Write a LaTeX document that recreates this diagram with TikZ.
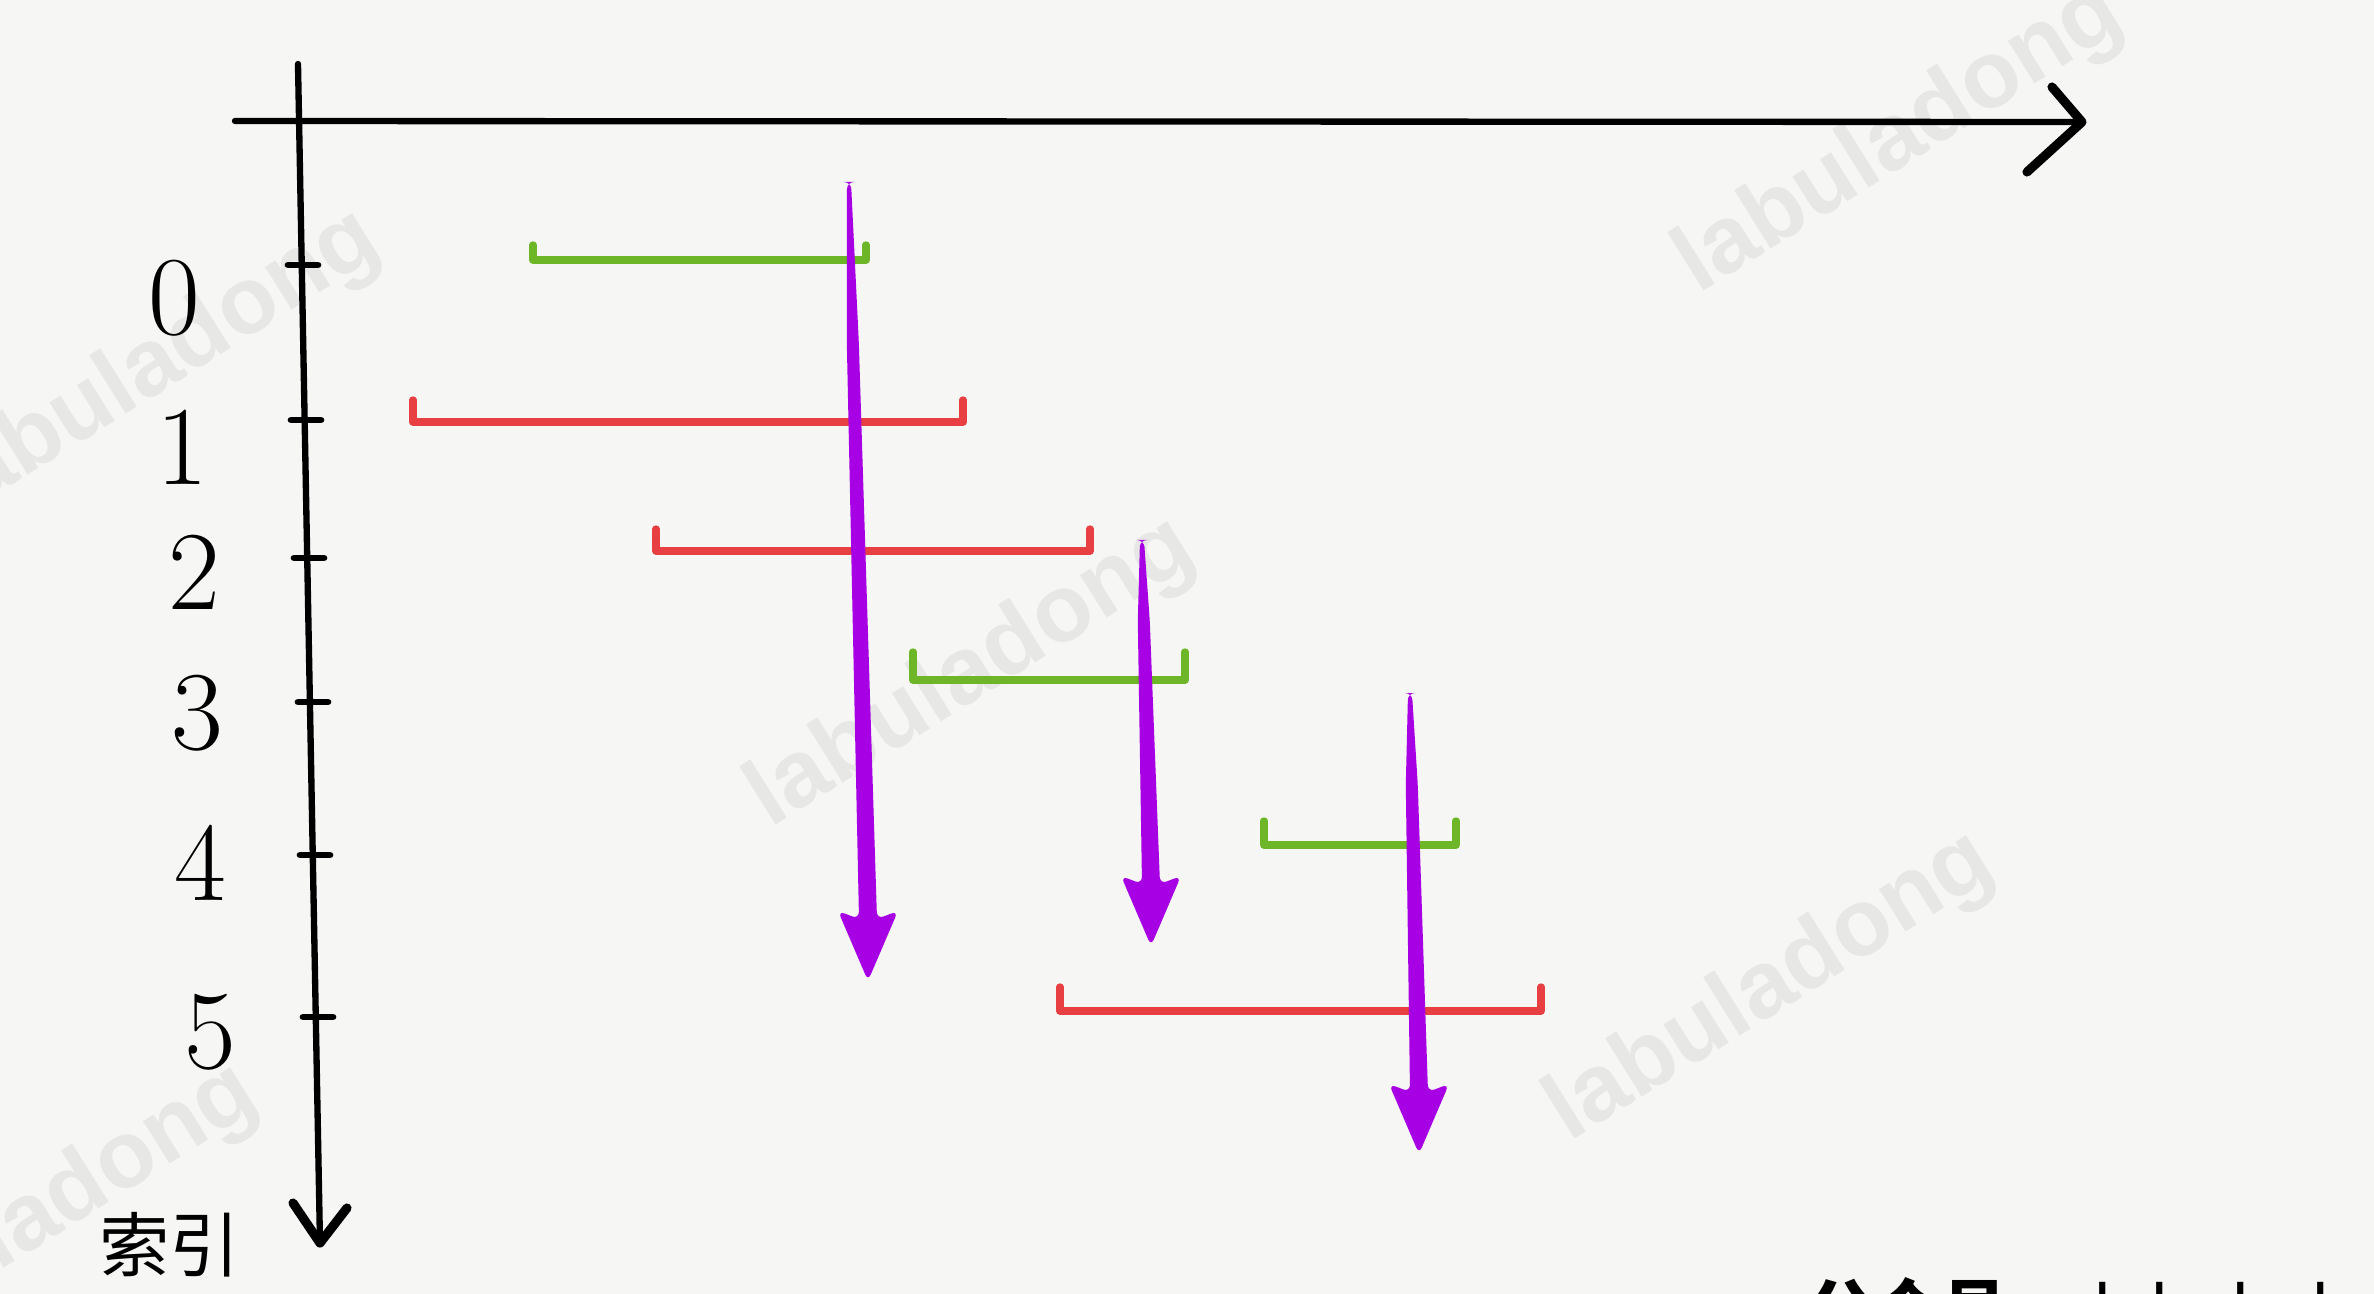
\documentclass[tikz,border=0pt]{standalone}
\usepackage{fontspec}
\newfontfamily\cjkfont{Noto Sans CJK SC}
\newfontfamily\wmfont{Liberation Sans}
\usetikzlibrary{arrows.meta,calc}
\definecolor{paper}{RGB}{246,246,244}
\definecolor{segGreen}{RGB}{108,182,40}
\definecolor{segRed}{RGB}{232,64,66}
\definecolor{scanPurple}{RGB}{168,0,228}
\definecolor{wmGray}{RGB}{231,231,230}
\tikzset{
  every picture/.append style={line cap=round,line join=round},
  idx axis/.style={black,line width=1.8pt},
  idx head/.style={black,line width=2.6pt},
  idx tick/.style={black,line width=1.9pt},
  idx label/.style={font=\fontsize{32}{36}\selectfont,inner sep=0pt},
  idx title/.style={font=\cjkfont\fontsize{20}{24}\selectfont,inner sep=0pt},
  seg green/.style={segGreen,line width=2.1pt},
  seg red/.style={segRed,line width=2.1pt},
  scan shaft/.style={fill=scanPurple,rounded corners=2pt},
  watermark/.style={wmGray,font=\wmfont\bfseries\fontsize{27}{30}\selectfont,rotate=32,inner sep=0pt}
}

\begin{document}
\begin{tikzpicture}[x=0.01cm, y=-0.01cm]
  \useasboundingbox (0,0) rectangle (2374,1294);
  \clip (0,0) rectangle (2374,1294);
  \fill[paper] (0,0) rectangle (2374,1294);

  % watermarks
  \node[watermark] (wm1) at (157,366) {labuladong};
  \node[watermark] (wm2) at (972,674) {labuladong};
  \node[watermark] (wm3) at (1900,140) {labuladong};
  \node[watermark] (wm4) at (1771,988) {labuladong};
  \node[watermark] (wm5) at (35,1220) {labuladong};

  % axes
  \coordinate (xleft) at (235,121);
  \coordinate (xright) at (2082,122);
  \coordinate (ytop) at (298,64);
  \coordinate (ybot) at (320,1243);
  \draw[idx axis] (xleft) -- (xright);
  \draw[idx head] ($(xright)+(-30,-35)$) -- (xright) -- ($(xright)+(-55,50)$);
  \draw[idx axis] (ytop) -- (ybot);
  \draw[idx head] ($(ybot)+(-27,-40)$) -- (ybot) -- ($(ybot)+(27,-35)$);
  \node[idx title] (idxname) at (170,1245) {索引};

  % ticks and labels
  \foreach \i/\ty/\tx/\lx/\ly in {0/265/302/174/298, 1/420/305/182/447, 2/558/308/194/572,
      3/702/312/197/713, 4/855/314/200/863, 5/1017/317/210/1032} {
    \draw[idx tick] (\tx-14,\ty) -- (\tx+16,\ty);
    \node[idx label] (lbl\i) at (\lx,\ly) {\i};
  }

  % intervals
  \foreach \n/\sty/\xa/\xb/\y/\h in {0/seg green/533/866/260/15, 1/seg red/413/963/422/22,
      2/seg red/656/1090/551/22, 3/seg green/913/1185/680/28,
      4/seg green/1264/1456/845/24, 5/seg red/1060/1541/1011/24} {
    \coordinate (sa\n) at (\xa,\y);
    \coordinate (sb\n) at (\xb,\y);
    \draw[\sty] ($(sa\n)+(0,-\h)$) -- (sa\n) -- (sb\n) -- ($(sb\n)+(0,-\h)$);
  }

  % scan arrows
  \foreach \n/\tx/\ty/\bx/\by in {1/849/182/868/981, 2/1142/540/1151/946, 3/1410/693/1419/1154} {
    \coordinate (top\n) at (\tx,\ty);
    \coordinate (tip\n) at (\bx,\by);
    \fill[scan shaft] ($(top\n)+(-2,0)$) -- ($(top\n)+(2,0)$) -- ($(top\n)!0.2!(tip\n)+(6,0)$)
      -- ($(tip\n)+(9,-62)$) -- ($(tip\n)+(30,-70)$) -- (tip\n) -- ($(tip\n)+(-30,-70)$)
      -- ($(tip\n)+(-9,-62)$) -- ($(top\n)!0.2!(tip\n)+(-6,0)$) -- cycle;
  }

  \node[anchor=base west, inner sep=0pt, font=\cjkfont\fontsize{19}{22}\selectfont]
    (gzh) at (1807,1335) {{\bfseries 公众号}\hspace{4pt}:\hspace{15pt}labuladong};
\end{tikzpicture}
\end{document}
